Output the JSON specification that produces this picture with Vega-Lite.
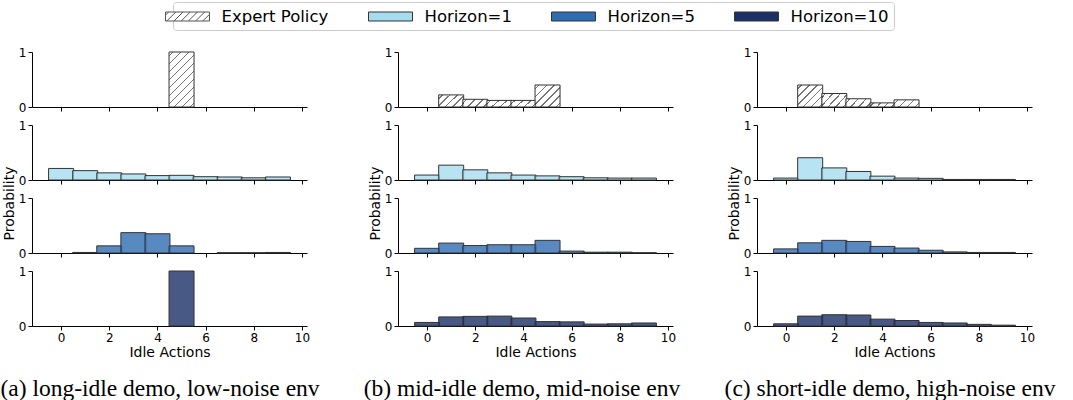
{
  "$schema": "https://vega.github.io/schema/vega-lite/v6.json",
  "padding": {"left": 0, "top": 1, "right": 2, "bottom": 2},
  "background": "white",
  "datasets": {
    "d": [
      {"demo": "a", "series": "Expert Policy", "idle": 5, "prob": 1.0},
      {"demo": "a", "series": "Horizon=1", "idle": 0, "prob": 0.21},
      {"demo": "a", "series": "Horizon=1", "idle": 1, "prob": 0.17},
      {"demo": "a", "series": "Horizon=1", "idle": 2, "prob": 0.13},
      {"demo": "a", "series": "Horizon=1", "idle": 3, "prob": 0.11},
      {"demo": "a", "series": "Horizon=1", "idle": 4, "prob": 0.08},
      {"demo": "a", "series": "Horizon=1", "idle": 5, "prob": 0.085},
      {"demo": "a", "series": "Horizon=1", "idle": 6, "prob": 0.06},
      {"demo": "a", "series": "Horizon=1", "idle": 7, "prob": 0.055},
      {"demo": "a", "series": "Horizon=1", "idle": 8, "prob": 0.04},
      {"demo": "a", "series": "Horizon=1", "idle": 9, "prob": 0.055},
      {"demo": "a", "series": "Horizon=5", "idle": 1, "prob": 0.01},
      {"demo": "a", "series": "Horizon=5", "idle": 2, "prob": 0.13},
      {"demo": "a", "series": "Horizon=5", "idle": 3, "prob": 0.37},
      {"demo": "a", "series": "Horizon=5", "idle": 4, "prob": 0.35},
      {"demo": "a", "series": "Horizon=5", "idle": 5, "prob": 0.13},
      {"demo": "a", "series": "Horizon=5", "idle": 7, "prob": 0.005},
      {"demo": "a", "series": "Horizon=5", "idle": 8, "prob": 0.005},
      {"demo": "a", "series": "Horizon=5", "idle": 9, "prob": 0.01},
      {"demo": "a", "series": "Horizon=10", "idle": 5, "prob": 1.0},
      {"demo": "b", "series": "Expert Policy", "idle": 1, "prob": 0.22},
      {"demo": "b", "series": "Expert Policy", "idle": 2, "prob": 0.14},
      {"demo": "b", "series": "Expert Policy", "idle": 3, "prob": 0.12},
      {"demo": "b", "series": "Expert Policy", "idle": 4, "prob": 0.12},
      {"demo": "b", "series": "Expert Policy", "idle": 5, "prob": 0.4},
      {"demo": "b", "series": "Horizon=1", "idle": 0, "prob": 0.09},
      {"demo": "b", "series": "Horizon=1", "idle": 1, "prob": 0.27},
      {"demo": "b", "series": "Horizon=1", "idle": 2, "prob": 0.185},
      {"demo": "b", "series": "Horizon=1", "idle": 3, "prob": 0.13},
      {"demo": "b", "series": "Horizon=1", "idle": 4, "prob": 0.09},
      {"demo": "b", "series": "Horizon=1", "idle": 5, "prob": 0.075},
      {"demo": "b", "series": "Horizon=1", "idle": 6, "prob": 0.06},
      {"demo": "b", "series": "Horizon=1", "idle": 7, "prob": 0.04},
      {"demo": "b", "series": "Horizon=1", "idle": 8, "prob": 0.035},
      {"demo": "b", "series": "Horizon=1", "idle": 9, "prob": 0.035},
      {"demo": "b", "series": "Horizon=5", "idle": 0, "prob": 0.085},
      {"demo": "b", "series": "Horizon=5", "idle": 1, "prob": 0.18},
      {"demo": "b", "series": "Horizon=5", "idle": 2, "prob": 0.135},
      {"demo": "b", "series": "Horizon=5", "idle": 3, "prob": 0.15},
      {"demo": "b", "series": "Horizon=5", "idle": 4, "prob": 0.15},
      {"demo": "b", "series": "Horizon=5", "idle": 5, "prob": 0.23},
      {"demo": "b", "series": "Horizon=5", "idle": 6, "prob": 0.035},
      {"demo": "b", "series": "Horizon=5", "idle": 7, "prob": 0.015},
      {"demo": "b", "series": "Horizon=5", "idle": 8, "prob": 0.015},
      {"demo": "b", "series": "Horizon=5", "idle": 9, "prob": 0.005},
      {"demo": "b", "series": "Horizon=10", "idle": 0, "prob": 0.065},
      {"demo": "b", "series": "Horizon=10", "idle": 1, "prob": 0.165},
      {"demo": "b", "series": "Horizon=10", "idle": 2, "prob": 0.175},
      {"demo": "b", "series": "Horizon=10", "idle": 3, "prob": 0.18},
      {"demo": "b", "series": "Horizon=10", "idle": 4, "prob": 0.145},
      {"demo": "b", "series": "Horizon=10", "idle": 5, "prob": 0.08},
      {"demo": "b", "series": "Horizon=10", "idle": 6, "prob": 0.075},
      {"demo": "b", "series": "Horizon=10", "idle": 7, "prob": 0.035},
      {"demo": "b", "series": "Horizon=10", "idle": 8, "prob": 0.04},
      {"demo": "b", "series": "Horizon=10", "idle": 9, "prob": 0.055},
      {"demo": "c", "series": "Expert Policy", "idle": 1, "prob": 0.4},
      {"demo": "c", "series": "Expert Policy", "idle": 2, "prob": 0.245},
      {"demo": "c", "series": "Expert Policy", "idle": 3, "prob": 0.15},
      {"demo": "c", "series": "Expert Policy", "idle": 4, "prob": 0.075},
      {"demo": "c", "series": "Expert Policy", "idle": 5, "prob": 0.13},
      {"demo": "c", "series": "Horizon=1", "idle": 0, "prob": 0.035},
      {"demo": "c", "series": "Horizon=1", "idle": 1, "prob": 0.405},
      {"demo": "c", "series": "Horizon=1", "idle": 2, "prob": 0.22},
      {"demo": "c", "series": "Horizon=1", "idle": 3, "prob": 0.155},
      {"demo": "c", "series": "Horizon=1", "idle": 4, "prob": 0.07},
      {"demo": "c", "series": "Horizon=1", "idle": 5, "prob": 0.035},
      {"demo": "c", "series": "Horizon=1", "idle": 6, "prob": 0.03},
      {"demo": "c", "series": "Horizon=1", "idle": 7, "prob": 0.01},
      {"demo": "c", "series": "Horizon=1", "idle": 8, "prob": 0.01},
      {"demo": "c", "series": "Horizon=1", "idle": 9, "prob": 0.01},
      {"demo": "c", "series": "Horizon=5", "idle": 0, "prob": 0.075},
      {"demo": "c", "series": "Horizon=5", "idle": 1, "prob": 0.185},
      {"demo": "c", "series": "Horizon=5", "idle": 2, "prob": 0.23},
      {"demo": "c", "series": "Horizon=5", "idle": 3, "prob": 0.21},
      {"demo": "c", "series": "Horizon=5", "idle": 4, "prob": 0.12},
      {"demo": "c", "series": "Horizon=5", "idle": 5, "prob": 0.09},
      {"demo": "c", "series": "Horizon=5", "idle": 6, "prob": 0.05},
      {"demo": "c", "series": "Horizon=5", "idle": 7, "prob": 0.02},
      {"demo": "c", "series": "Horizon=5", "idle": 8, "prob": 0.01},
      {"demo": "c", "series": "Horizon=5", "idle": 9, "prob": 0.01},
      {"demo": "c", "series": "Horizon=10", "idle": 0, "prob": 0.04},
      {"demo": "c", "series": "Horizon=10", "idle": 1, "prob": 0.18},
      {"demo": "c", "series": "Horizon=10", "idle": 2, "prob": 0.205},
      {"demo": "c", "series": "Horizon=10", "idle": 3, "prob": 0.2},
      {"demo": "c", "series": "Horizon=10", "idle": 4, "prob": 0.125},
      {"demo": "c", "series": "Horizon=10", "idle": 5, "prob": 0.1},
      {"demo": "c", "series": "Horizon=10", "idle": 6, "prob": 0.065},
      {"demo": "c", "series": "Horizon=10", "idle": 7, "prob": 0.055},
      {"demo": "c", "series": "Horizon=10", "idle": 8, "prob": 0.03},
      {"demo": "c", "series": "Horizon=10", "idle": 9, "prob": 0.015}
    ]
  },
  "config": {
    "view": {"stroke": null},
    "font": "DejaVu Sans",
    "axis": {
      "domainColor": "black", "domainWidth": 1, "tickColor": "black", "tickWidth": 1, "tickSize": 4,
      "labelColor": "black", "labelFontSize": 12, "labelFont": "DejaVu Sans", "labelPadding": 2,
      "titleColor": "black", "titleFontSize": 14, "titleFont": "DejaVu Sans", "titleFontWeight": "normal",
      "titlePadding": 2, "grid": false
    },
    "legend": {
      "orient": "none", "legendX": 141, "legendY": -50, "direction": "horizontal",
      "strokeColor": "#cccccc", "fillColor": "white", "cornerRadius": 3, "padding": 5,
      "labelFontSize": 16.5, "labelFont": "DejaVu Sans", "labelColor": "black", "labelOffset": 24.5,
      "columnPadding": 37, "symbolSize": 324, "symbolStrokeColor": "#333333", "symbolStrokeWidth": 1,
      "symbolOpacity": 1,
      "symbolType": "M-2.444,-0.5L2.444,-0.5L2.444,0.5L-2.444,0.5Z"
    },
    "title": {"font": "Liberation Serif", "fontSize": 23.5, "fontWeight": "normal", "color": "black"}
  },
  "spacing": 43,
  "hconcat": [
    {
      "title": {"text": "(a) long-idle demo, low-noise env", "orient": "bottom", "anchor": "middle", "offset": 18, "dx": 4},
      "bounds": "flush",
      "spacing": 18,
      "vconcat": [
        {"width": 275, "height": 55, "data": {"name": "d"},
         "transform": [{"filter": "datum.demo == 'a' && datum.series == 'Expert Policy'"}],
         "mark": {"type": "bar", "width": 25, "stroke": "#333333", "strokeWidth": 1, "fillOpacity": 0.8},
         "encoding": {
           "x": {"field": "idle", "type": "quantitative", "scale": {"domain": [-1, 10], "nice": false, "zero": false}, "axis": {"values": [0, 2, 4, 6, 8, 10], "labels": false, "title": null}},
           "y": {"field": "prob", "type": "quantitative", "scale": {"domain": [0, 1], "nice": false}, "axis": {"values": [0, 1], "format": "d", "title": null}},
           "fill": {
             "condition": {"test": "datum.prob >= 0.7", "value": {"gradient": "linear", "x1": 0, "y1": 0, "x2": 0.548, "y2": 1.205, "stops": [
               {"offset": 0, "color": "white"},
               {"offset": 0.04, "color": "white"}, {"offset": 0.04, "color": "#555555"}, {"offset": 0.06, "color": "#555555"}, {"offset": 0.06, "color": "white"},
               {"offset": 0.14, "color": "white"}, {"offset": 0.14, "color": "#555555"}, {"offset": 0.16, "color": "#555555"}, {"offset": 0.16, "color": "white"},
               {"offset": 0.24, "color": "white"}, {"offset": 0.24, "color": "#555555"}, {"offset": 0.26, "color": "#555555"}, {"offset": 0.26, "color": "white"},
               {"offset": 0.34, "color": "white"}, {"offset": 0.34, "color": "#555555"}, {"offset": 0.36, "color": "#555555"}, {"offset": 0.36, "color": "white"},
               {"offset": 0.44, "color": "white"}, {"offset": 0.44, "color": "#555555"}, {"offset": 0.46, "color": "#555555"}, {"offset": 0.46, "color": "white"},
               {"offset": 0.54, "color": "white"}, {"offset": 0.54, "color": "#555555"}, {"offset": 0.56, "color": "#555555"}, {"offset": 0.56, "color": "white"},
               {"offset": 0.64, "color": "white"}, {"offset": 0.64, "color": "#555555"}, {"offset": 0.66, "color": "#555555"}, {"offset": 0.66, "color": "white"},
               {"offset": 0.74, "color": "white"}, {"offset": 0.74, "color": "#555555"}, {"offset": 0.76, "color": "#555555"}, {"offset": 0.76, "color": "white"},
               {"offset": 0.84, "color": "white"}, {"offset": 0.84, "color": "#555555"}, {"offset": 0.86, "color": "#555555"}, {"offset": 0.86, "color": "white"},
               {"offset": 0.94, "color": "white"}, {"offset": 0.94, "color": "#555555"}, {"offset": 0.96, "color": "#555555"}, {"offset": 0.96, "color": "white"},
               {"offset": 1, "color": "white"}
             ]}},
             "field": "series", "type": "nominal", "title": null,
             "scale": {"domain": ["Expert Policy", "Horizon=1", "Horizon=5", "Horizon=10"], "range": ["#ffffff", "#a6dcef", "#2e6db2", "#1c2f66"]},
             "legend": {"encode": {"symbols": {"update": {
               "shape": [
                 {"test": "datum.value === 'Expert Policy'", "value": "M-2.444,-0.5L2.444,-0.5L2.444,0.5L-2.444,0.5ZM-2.444,-0.156L-2.1,-0.5M-2.3,0.5L-1.3,-0.5M-1.5,0.5L-0.5,-0.5M-0.7,0.5L0.3,-0.5M0.1,0.5L1.1,-0.5M0.9,0.5L1.9,-0.5M1.7,0.5L2.444,-0.244"},
                 {"value": "M-2.444,-0.5L2.444,-0.5L2.444,0.5L-2.444,0.5Z"}
               ],
               "fill": [
                 {"test": "datum.value === 'Expert Policy'", "value": "#ffffff"},
                 {"scale": "fill", "field": "value"}
               ],
               "stroke": [
                 {"test": "datum.value === 'Expert Policy'", "value": "#555555"},
                 {"value": "#333333"}
               ],
               "strokeWidth": {"value": 1},
               "opacity": {"value": 1},
               "fillOpacity": {"value": 1},
               "strokeOpacity": {"value": 1}
             }}}}
           }
         }},
        {"width": 275, "height": 55, "data": {"name": "d"},
         "transform": [{"filter": "datum.demo == 'a' && datum.series == 'Horizon=1'"}],
         "mark": {"type": "bar", "width": 25, "stroke": "#333333", "strokeWidth": 1, "fillOpacity": 0.8},
         "encoding": {
           "x": {"field": "idle", "type": "quantitative", "scale": {"domain": [-1, 10], "nice": false, "zero": false}, "axis": {"values": [0, 2, 4, 6, 8, 10], "labels": false, "title": null}},
           "y": {"field": "prob", "type": "quantitative", "scale": {"domain": [0, 1], "nice": false}, "axis": {"values": [0, 1], "format": "d", "title": null}},
           "fill": {"field": "series", "type": "nominal", "title": null}
         }},
        {"width": 275, "height": 55, "data": {"name": "d"},
         "transform": [{"filter": "datum.demo == 'a' && datum.series == 'Horizon=5'"}],
         "mark": {"type": "bar", "width": 25, "stroke": "#333333", "strokeWidth": 1, "fillOpacity": 0.8},
         "encoding": {
           "x": {"field": "idle", "type": "quantitative", "scale": {"domain": [-1, 10], "nice": false, "zero": false}, "axis": {"values": [0, 2, 4, 6, 8, 10], "labels": false, "title": null}},
           "y": {"field": "prob", "type": "quantitative", "scale": {"domain": [0, 1], "nice": false}, "axis": {"values": [0, 1], "format": "d", "title": "Probability", "titleY": 5}},
           "fill": {"field": "series", "type": "nominal", "title": null}
         }},
        {"width": 275, "height": 55, "data": {"name": "d"},
         "transform": [{"filter": "datum.demo == 'a' && datum.series == 'Horizon=10'"}],
         "mark": {"type": "bar", "width": 25, "stroke": "#333333", "strokeWidth": 1, "fillOpacity": 0.8},
         "encoding": {
           "x": {"field": "idle", "type": "quantitative", "scale": {"domain": [-1, 10], "nice": false, "zero": false}, "axis": {"values": [0, 2, 4, 6, 8, 10], "title": "Idle Actions"}},
           "y": {"field": "prob", "type": "quantitative", "scale": {"domain": [0, 1], "nice": false}, "axis": {"values": [0, 1], "format": "d", "title": null}},
           "fill": {"field": "series", "type": "nominal", "title": null}
         }}
      ]
    },
    {
      "title": {"text": "(b) mid-idle demo, mid-noise env", "orient": "bottom", "anchor": "middle", "offset": 18},
      "bounds": "flush",
      "spacing": 18,
      "vconcat": [
        {"width": 275, "height": 55, "data": {"name": "d"},
         "transform": [{"filter": "datum.demo == 'b' && datum.series == 'Expert Policy'"}],
         "mark": {"type": "bar", "width": 25, "stroke": "#333333", "strokeWidth": 1, "fillOpacity": 0.8},
         "encoding": {
           "x": {"field": "idle", "type": "quantitative", "scale": {"domain": [-1, 10], "nice": false, "zero": false}, "axis": {"values": [0, 2, 4, 6, 8, 10], "labels": false, "title": null}},
           "y": {"field": "prob", "type": "quantitative", "scale": {"domain": [0, 1], "nice": false}, "axis": {"values": [0, 1], "format": "d", "title": null}},
           "fill": {
             "condition": [
               {"test": "datum.prob >= 0.3", "value": {"gradient": "linear", "x1": 0, "y1": 0, "x2": 1.06, "y2": 0.933, "stops": [
                 {"offset": 0, "color": "white"},
                 {"offset": 0.066, "color": "white"}, {"offset": 0.066, "color": "#555555"}, {"offset": 0.1, "color": "#555555"}, {"offset": 0.1, "color": "white"},
                 {"offset": 0.233, "color": "white"}, {"offset": 0.233, "color": "#555555"}, {"offset": 0.267, "color": "#555555"}, {"offset": 0.267, "color": "white"},
                 {"offset": 0.4, "color": "white"}, {"offset": 0.4, "color": "#555555"}, {"offset": 0.434, "color": "#555555"}, {"offset": 0.434, "color": "white"},
                 {"offset": 0.566, "color": "white"}, {"offset": 0.566, "color": "#555555"}, {"offset": 0.6, "color": "#555555"}, {"offset": 0.6, "color": "white"},
                 {"offset": 0.733, "color": "white"}, {"offset": 0.733, "color": "#555555"}, {"offset": 0.767, "color": "#555555"}, {"offset": 0.767, "color": "white"},
                 {"offset": 0.9, "color": "white"}, {"offset": 0.9, "color": "#555555"}, {"offset": 0.934, "color": "#555555"}, {"offset": 0.934, "color": "white"},
                 {"offset": 1, "color": "white"}
               ]}},
               {"test": "datum.prob >= 0.18", "value": {"gradient": "linear", "x1": 0, "y1": 0, "x2": 1.2, "y2": 0.6, "stops": [
                 {"offset": 0, "color": "white"},
                 {"offset": 0.079, "color": "white"}, {"offset": 0.079, "color": "#555555"}, {"offset": 0.121, "color": "#555555"}, {"offset": 0.121, "color": "white"},
                 {"offset": 0.279, "color": "white"}, {"offset": 0.279, "color": "#555555"}, {"offset": 0.321, "color": "#555555"}, {"offset": 0.321, "color": "white"},
                 {"offset": 0.479, "color": "white"}, {"offset": 0.479, "color": "#555555"}, {"offset": 0.521, "color": "#555555"}, {"offset": 0.521, "color": "white"},
                 {"offset": 0.679, "color": "white"}, {"offset": 0.679, "color": "#555555"}, {"offset": 0.721, "color": "#555555"}, {"offset": 0.721, "color": "white"},
                 {"offset": 0.879, "color": "white"}, {"offset": 0.879, "color": "#555555"}, {"offset": 0.921, "color": "#555555"}, {"offset": 0.921, "color": "white"},
                 {"offset": 1, "color": "white"}
               ]}},
               {"test": "datum.prob >= 0.1", "value": {"gradient": "linear", "x1": 0, "y1": 0, "x2": 1.193, "y2": 0.358, "stops": [
                 {"offset": 0, "color": "white"},
                 {"offset": 0.101, "color": "white"}, {"offset": 0.101, "color": "#555555"}, {"offset": 0.149, "color": "#555555"}, {"offset": 0.149, "color": "white"},
                 {"offset": 0.351, "color": "white"}, {"offset": 0.351, "color": "#555555"}, {"offset": 0.399, "color": "#555555"}, {"offset": 0.399, "color": "white"},
                 {"offset": 0.601, "color": "white"}, {"offset": 0.601, "color": "#555555"}, {"offset": 0.649, "color": "#555555"}, {"offset": 0.649, "color": "white"},
                 {"offset": 0.851, "color": "white"}, {"offset": 0.851, "color": "#555555"}, {"offset": 0.899, "color": "#555555"}, {"offset": 0.899, "color": "white"},
                 {"offset": 1, "color": "white"}
               ]}}
             ],
             "field": "series", "type": "nominal", "title": null}
         }},
        {"width": 275, "height": 55, "data": {"name": "d"},
         "transform": [{"filter": "datum.demo == 'b' && datum.series == 'Horizon=1'"}],
         "mark": {"type": "bar", "width": 25, "stroke": "#333333", "strokeWidth": 1, "fillOpacity": 0.8},
         "encoding": {
           "x": {"field": "idle", "type": "quantitative", "scale": {"domain": [-1, 10], "nice": false, "zero": false}, "axis": {"values": [0, 2, 4, 6, 8, 10], "labels": false, "title": null}},
           "y": {"field": "prob", "type": "quantitative", "scale": {"domain": [0, 1], "nice": false}, "axis": {"values": [0, 1], "format": "d", "title": null}},
           "fill": {"field": "series", "type": "nominal", "title": null}
         }},
        {"width": 275, "height": 55, "data": {"name": "d"},
         "transform": [{"filter": "datum.demo == 'b' && datum.series == 'Horizon=5'"}],
         "mark": {"type": "bar", "width": 25, "stroke": "#333333", "strokeWidth": 1, "fillOpacity": 0.8},
         "encoding": {
           "x": {"field": "idle", "type": "quantitative", "scale": {"domain": [-1, 10], "nice": false, "zero": false}, "axis": {"values": [0, 2, 4, 6, 8, 10], "labels": false, "title": null}},
           "y": {"field": "prob", "type": "quantitative", "scale": {"domain": [0, 1], "nice": false}, "axis": {"values": [0, 1], "format": "d", "title": "Probability", "titleY": 5}},
           "fill": {"field": "series", "type": "nominal", "title": null}
         }},
        {"width": 275, "height": 55, "data": {"name": "d"},
         "transform": [{"filter": "datum.demo == 'b' && datum.series == 'Horizon=10'"}],
         "mark": {"type": "bar", "width": 25, "stroke": "#333333", "strokeWidth": 1, "fillOpacity": 0.8},
         "encoding": {
           "x": {"field": "idle", "type": "quantitative", "scale": {"domain": [-1, 10], "nice": false, "zero": false}, "axis": {"values": [0, 2, 4, 6, 8, 10], "title": "Idle Actions"}},
           "y": {"field": "prob", "type": "quantitative", "scale": {"domain": [0, 1], "nice": false}, "axis": {"values": [0, 1], "format": "d", "title": null}},
           "fill": {"field": "series", "type": "nominal", "title": null}
         }}
      ]
    },
    {
      "title": {"text": "(c) short-idle demo, high-noise env", "orient": "bottom", "anchor": "middle", "offset": 18, "dx": 9},
      "bounds": "flush",
      "spacing": 18,
      "vconcat": [
        {"width": 275, "height": 55, "data": {"name": "d"},
         "transform": [{"filter": "datum.demo == 'c' && datum.series == 'Expert Policy'"}],
         "mark": {"type": "bar", "width": 25, "stroke": "#333333", "strokeWidth": 1, "fillOpacity": 0.8},
         "encoding": {
           "x": {"field": "idle", "type": "quantitative", "scale": {"domain": [-1, 10], "nice": false, "zero": false}, "axis": {"values": [0, 2, 4, 6, 8, 10], "labels": false, "title": null}},
           "y": {"field": "prob", "type": "quantitative", "scale": {"domain": [0, 1], "nice": false}, "axis": {"values": [0, 1], "format": "d", "title": null}},
           "fill": {
             "condition": [
               {"test": "datum.prob >= 0.3", "value": {"gradient": "linear", "x1": 0, "y1": 0, "x2": 1.06, "y2": 0.933, "stops": [
                 {"offset": 0, "color": "white"},
                 {"offset": 0.066, "color": "white"}, {"offset": 0.066, "color": "#555555"}, {"offset": 0.1, "color": "#555555"}, {"offset": 0.1, "color": "white"},
                 {"offset": 0.233, "color": "white"}, {"offset": 0.233, "color": "#555555"}, {"offset": 0.267, "color": "#555555"}, {"offset": 0.267, "color": "white"},
                 {"offset": 0.4, "color": "white"}, {"offset": 0.4, "color": "#555555"}, {"offset": 0.434, "color": "#555555"}, {"offset": 0.434, "color": "white"},
                 {"offset": 0.566, "color": "white"}, {"offset": 0.566, "color": "#555555"}, {"offset": 0.6, "color": "#555555"}, {"offset": 0.6, "color": "white"},
                 {"offset": 0.733, "color": "white"}, {"offset": 0.733, "color": "#555555"}, {"offset": 0.767, "color": "#555555"}, {"offset": 0.767, "color": "white"},
                 {"offset": 0.9, "color": "white"}, {"offset": 0.9, "color": "#555555"}, {"offset": 0.934, "color": "#555555"}, {"offset": 0.934, "color": "white"},
                 {"offset": 1, "color": "white"}
               ]}},
               {"test": "datum.prob >= 0.18", "value": {"gradient": "linear", "x1": 0, "y1": 0, "x2": 1.2, "y2": 0.6, "stops": [
                 {"offset": 0, "color": "white"},
                 {"offset": 0.079, "color": "white"}, {"offset": 0.079, "color": "#555555"}, {"offset": 0.121, "color": "#555555"}, {"offset": 0.121, "color": "white"},
                 {"offset": 0.279, "color": "white"}, {"offset": 0.279, "color": "#555555"}, {"offset": 0.321, "color": "#555555"}, {"offset": 0.321, "color": "white"},
                 {"offset": 0.479, "color": "white"}, {"offset": 0.479, "color": "#555555"}, {"offset": 0.521, "color": "#555555"}, {"offset": 0.521, "color": "white"},
                 {"offset": 0.679, "color": "white"}, {"offset": 0.679, "color": "#555555"}, {"offset": 0.721, "color": "#555555"}, {"offset": 0.721, "color": "white"},
                 {"offset": 0.879, "color": "white"}, {"offset": 0.879, "color": "#555555"}, {"offset": 0.921, "color": "#555555"}, {"offset": 0.921, "color": "white"},
                 {"offset": 1, "color": "white"}
               ]}},
               {"test": "datum.prob >= 0.1", "value": {"gradient": "linear", "x1": 0, "y1": 0, "x2": 1.193, "y2": 0.358, "stops": [
                 {"offset": 0, "color": "white"},
                 {"offset": 0.101, "color": "white"}, {"offset": 0.101, "color": "#555555"}, {"offset": 0.149, "color": "#555555"}, {"offset": 0.149, "color": "white"},
                 {"offset": 0.351, "color": "white"}, {"offset": 0.351, "color": "#555555"}, {"offset": 0.399, "color": "#555555"}, {"offset": 0.399, "color": "white"},
                 {"offset": 0.601, "color": "white"}, {"offset": 0.601, "color": "#555555"}, {"offset": 0.649, "color": "#555555"}, {"offset": 0.649, "color": "white"},
                 {"offset": 0.851, "color": "white"}, {"offset": 0.851, "color": "#555555"}, {"offset": 0.899, "color": "#555555"}, {"offset": 0.899, "color": "white"},
                 {"offset": 1, "color": "white"}
               ]}},
               {"test": "datum.prob < 0.1", "value": {"gradient": "linear", "x1": 0, "y1": 0, "x2": 1.131, "y2": 0.181, "stops": [
                 {"offset": 0, "color": "white"},
                 {"offset": 0.098, "color": "white"}, {"offset": 0.098, "color": "#555555"}, {"offset": 0.152, "color": "#555555"}, {"offset": 0.152, "color": "white"},
                 {"offset": 0.348, "color": "white"}, {"offset": 0.348, "color": "#555555"}, {"offset": 0.402, "color": "#555555"}, {"offset": 0.402, "color": "white"},
                 {"offset": 0.598, "color": "white"}, {"offset": 0.598, "color": "#555555"}, {"offset": 0.652, "color": "#555555"}, {"offset": 0.652, "color": "white"},
                 {"offset": 0.848, "color": "white"}, {"offset": 0.848, "color": "#555555"}, {"offset": 0.902, "color": "#555555"}, {"offset": 0.902, "color": "white"},
                 {"offset": 1, "color": "white"}
               ]}}
             ],
             "field": "series", "type": "nominal", "title": null}
         }},
        {"width": 275, "height": 55, "data": {"name": "d"},
         "transform": [{"filter": "datum.demo == 'c' && datum.series == 'Horizon=1'"}],
         "mark": {"type": "bar", "width": 25, "stroke": "#333333", "strokeWidth": 1, "fillOpacity": 0.8},
         "encoding": {
           "x": {"field": "idle", "type": "quantitative", "scale": {"domain": [-1, 10], "nice": false, "zero": false}, "axis": {"values": [0, 2, 4, 6, 8, 10], "labels": false, "title": null}},
           "y": {"field": "prob", "type": "quantitative", "scale": {"domain": [0, 1], "nice": false}, "axis": {"values": [0, 1], "format": "d", "title": null}},
           "fill": {"field": "series", "type": "nominal", "title": null}
         }},
        {"width": 275, "height": 55, "data": {"name": "d"},
         "transform": [{"filter": "datum.demo == 'c' && datum.series == 'Horizon=5'"}],
         "mark": {"type": "bar", "width": 25, "stroke": "#333333", "strokeWidth": 1, "fillOpacity": 0.8},
         "encoding": {
           "x": {"field": "idle", "type": "quantitative", "scale": {"domain": [-1, 10], "nice": false, "zero": false}, "axis": {"values": [0, 2, 4, 6, 8, 10], "labels": false, "title": null}},
           "y": {"field": "prob", "type": "quantitative", "scale": {"domain": [0, 1], "nice": false}, "axis": {"values": [0, 1], "format": "d", "title": "Probability", "titleY": 5}},
           "fill": {"field": "series", "type": "nominal", "title": null}
         }},
        {"width": 275, "height": 55, "data": {"name": "d"},
         "transform": [{"filter": "datum.demo == 'c' && datum.series == 'Horizon=10'"}],
         "mark": {"type": "bar", "width": 25, "stroke": "#333333", "strokeWidth": 1, "fillOpacity": 0.8},
         "encoding": {
           "x": {"field": "idle", "type": "quantitative", "scale": {"domain": [-1, 10], "nice": false, "zero": false}, "axis": {"values": [0, 2, 4, 6, 8, 10], "title": "Idle Actions"}},
           "y": {"field": "prob", "type": "quantitative", "scale": {"domain": [0, 1], "nice": false}, "axis": {"values": [0, 1], "format": "d", "title": null}},
           "fill": {"field": "series", "type": "nominal", "title": null}
         }}
      ]
    }
  ]
}
